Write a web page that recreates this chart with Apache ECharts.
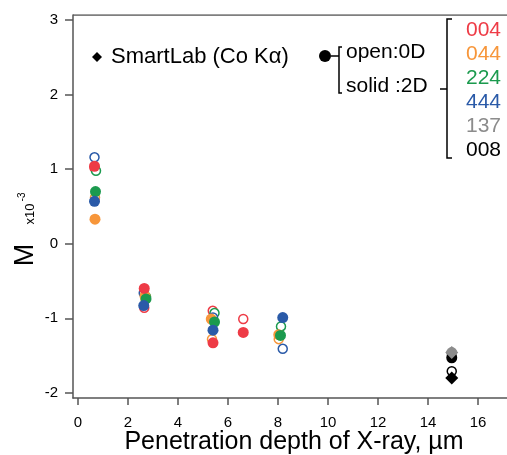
<!DOCTYPE html>
<html>
<head>
<meta charset="utf-8">
<script src="https://cdn.jsdelivr.net/npm/echarts@6/dist/echarts.min.js"></script>
<style>
  html, body { margin: 0; padding: 0; background: #fff; }
  #chart { width: 507px; height: 455px; }
</style>
</head>
<body>
<div id="chart"></div>
<script>
// 数据: [深度 µm, M ×10^-3]
const red004Solid = [[0.66, 1.04], [2.65, -0.60], [5.40, -1.33], [6.61, -1.19]];
const red004Open = [[0.66, 1.02], [2.65, -0.86], [5.39, -0.90], [6.61, -1.01]];
const orange044Solid = [[0.68, 0.33], [2.68, -0.70], [5.33, -1.01], [8.03, -1.22]];
const orange044Open = [[0.68, 0.62], [2.70, -0.74], [5.36, -1.28], [8.03, -1.28]];
const green224Solid = [[0.70, 0.70], [2.72, -0.74], [5.46, -1.05], [8.10, -1.23]];
const green224Open = [[0.72, 0.98], [2.72, -0.71], [5.46, -0.93], [8.12, -1.11]];
const blue444Solid = [[0.66, 0.57], [2.63, -0.83], [5.40, -1.16], [8.19, -0.99]];
const blue444Open = [[0.66, 1.16], [2.63, -0.66], [5.40, -0.99], [8.19, -1.41]];
const gray137Solid = [[14.95, -1.46]];
const black008Solid = [[14.95, -1.53]];
const black008Open = [[14.95, -1.71]];
const smartLab137 = [[14.95, -1.46]];
const smartLab008 = [[14.95, -1.80]];

const xTicks = [0, 2, 4, 6, 8, 10, 12, 14, 16];
const yTicks = [-2, -1, 0, 1, 2, 3];
const legendLabels = ['004', '044', '224', '444', '137', '008'];

const RED = '#ee3b46', ORANGE = '#f7963a', GREEN = '#1b9a4e', BLUE = '#2a5aa8', GRAY = '#8c8c8c', BLACK = '#000';
const legendColors = [RED, ORANGE, GREEN, BLUE, GRAY, BLACK];
const FONT = '"Liberation Sans", Arial, sans-serif';

function solid(data, color) {
    return { type: 'scatter', data: data, symbol: 'circle', symbolSize: 11,
        itemStyle: { color: color, opacity: 1 }, emphasis: { disabled: true } };
}
function open(data, color) {
    return { type: 'scatter', data: data, symbol: 'circle', symbolSize: 9,
        itemStyle: { color: '#fff', borderColor: color, borderWidth: 1.5, opacity: 1 }, emphasis: { disabled: true } };
}
function diamond(data, color) {
    return { type: 'scatter', data: data, symbol: 'diamond', symbolSize: [13, 13],
        itemStyle: { color: color, opacity: 1 }, emphasis: { disabled: true } };
}

const chart = echarts.init(document.getElementById('chart'));

const graphics = [
    // 轴标题
    { type: 'text', x: 294, y: 442, style: { text: 'Penetration depth of X-ray, µm', font: '25px ' + FONT, fill: '#000', align: 'center', verticalAlign: 'middle' } },
    { type: 'text', x: 26, y: 255, rotation: Math.PI / 2, style: { text: 'M', font: '27px ' + FONT, fill: '#000', align: 'center', verticalAlign: 'middle' } },
    { type: 'text', x: 30, y: 214, rotation: Math.PI / 2, style: { text: 'x10', font: '13px ' + FONT, fill: '#000', align: 'center', verticalAlign: 'middle' } },
    { type: 'text', x: 22, y: 197, rotation: Math.PI / 2, style: { text: '-3', font: '10px ' + FONT, fill: '#000', align: 'center', verticalAlign: 'middle' } },
    // SmartLab 图例
    { type: 'polygon', shape: { points: [[97, 52], [102, 57], [97, 62], [92, 57]] }, style: { fill: '#000' } },
    { type: 'text', x: 111, y: 57, style: { text: 'SmartLab (Co Kα)', font: '22px ' + FONT, fill: '#000', align: 'left', verticalAlign: 'middle' } },
    // open / solid 图例
    { type: 'circle', shape: { cx: 325, cy: 56, r: 6 }, style: { fill: '#000' } },
    { type: 'polyline', shape: { points: [[342, 47], [339, 47], [339, 93], [342, 93]] }, style: { stroke: '#000', lineWidth: 1.5, fill: null } },
    { type: 'line', shape: { x1: 331, y1: 56, x2: 339, y2: 56 }, style: { stroke: '#000', lineWidth: 1.5 } },
    { type: 'text', x: 346, y: 52, style: { text: 'open:0D', font: '21px ' + FONT, fill: '#000', align: 'left', verticalAlign: 'middle' } },
    { type: 'text', x: 346, y: 86, style: { text: 'solid :2D', font: '21px ' + FONT, fill: '#000', align: 'left', verticalAlign: 'middle' } },
    // 反射面图例
    { type: 'line', shape: { x1: 440, y1: 89, x2: 447, y2: 89 }, style: { stroke: '#000', lineWidth: 1.5 } },
    { type: 'polyline', shape: { points: [[452, 19], [447, 19], [447, 158], [452, 158]] }, style: { stroke: '#000', lineWidth: 1.5, fill: null } }
];
legendLabels.forEach(function (label, i) {
    graphics.push({ type: 'text', x: 466, y: 30 + i * 24, style: { text: label, font: '21px ' + FONT, fill: legendColors[i], align: 'left', verticalAlign: 'middle' } });
});

const option = {
    backgroundColor: '#fff',
    animation: false,
    grid: { left: 73, top: 15, right: 0, bottom: 57, show: false },
    xAxis: {
        type: 'value', min: -0.2, max: 17.16,
        axisLine: { show: true, onZero: false, lineStyle: { color: '#555', width: 1.5 } },
        axisTick: { show: true, length: 7, customValues: xTicks, lineStyle: { color: '#555', width: 1.5 } },
        axisLabel: { customValues: xTicks, margin: 17, color: '#000', fontSize: 15, fontFamily: FONT },
        splitLine: { show: false }
    },
    yAxis: {
        type: 'value', min: -2.07, max: 3.07,
        axisLine: { show: true, onZero: false, lineStyle: { color: '#555', width: 1.5 } },
        axisTick: { show: true, length: 8, customValues: yTicks, lineStyle: { color: '#555', width: 1.5 } },
        axisLabel: { customValues: yTicks, margin: 15, color: '#000', fontSize: 15, fontFamily: FONT },
        splitLine: { show: false }
    },
    series: [
        open(red004Open, RED), open(orange044Open, ORANGE), open(green224Open, GREEN), open(blue444Open, BLUE),
        solid(orange044Solid, ORANGE), solid(red004Solid, RED), solid(green224Solid, GREEN), solid(blue444Solid, BLUE),
        solid(gray137Solid, GRAY), solid(black008Solid, BLACK), open(black008Open, BLACK),
        diamond(smartLab137, GRAY), diamond(smartLab008, BLACK),
        // 顶部边框
        { type: 'line', data: [[-0.2, 3.07], [17.16, 3.07]], symbol: 'none', silent: true,
          lineStyle: { color: '#555', width: 1.5 } }
    ],
    graphic: graphics
};

chart.setOption(option);
</script>
</body>
</html>
